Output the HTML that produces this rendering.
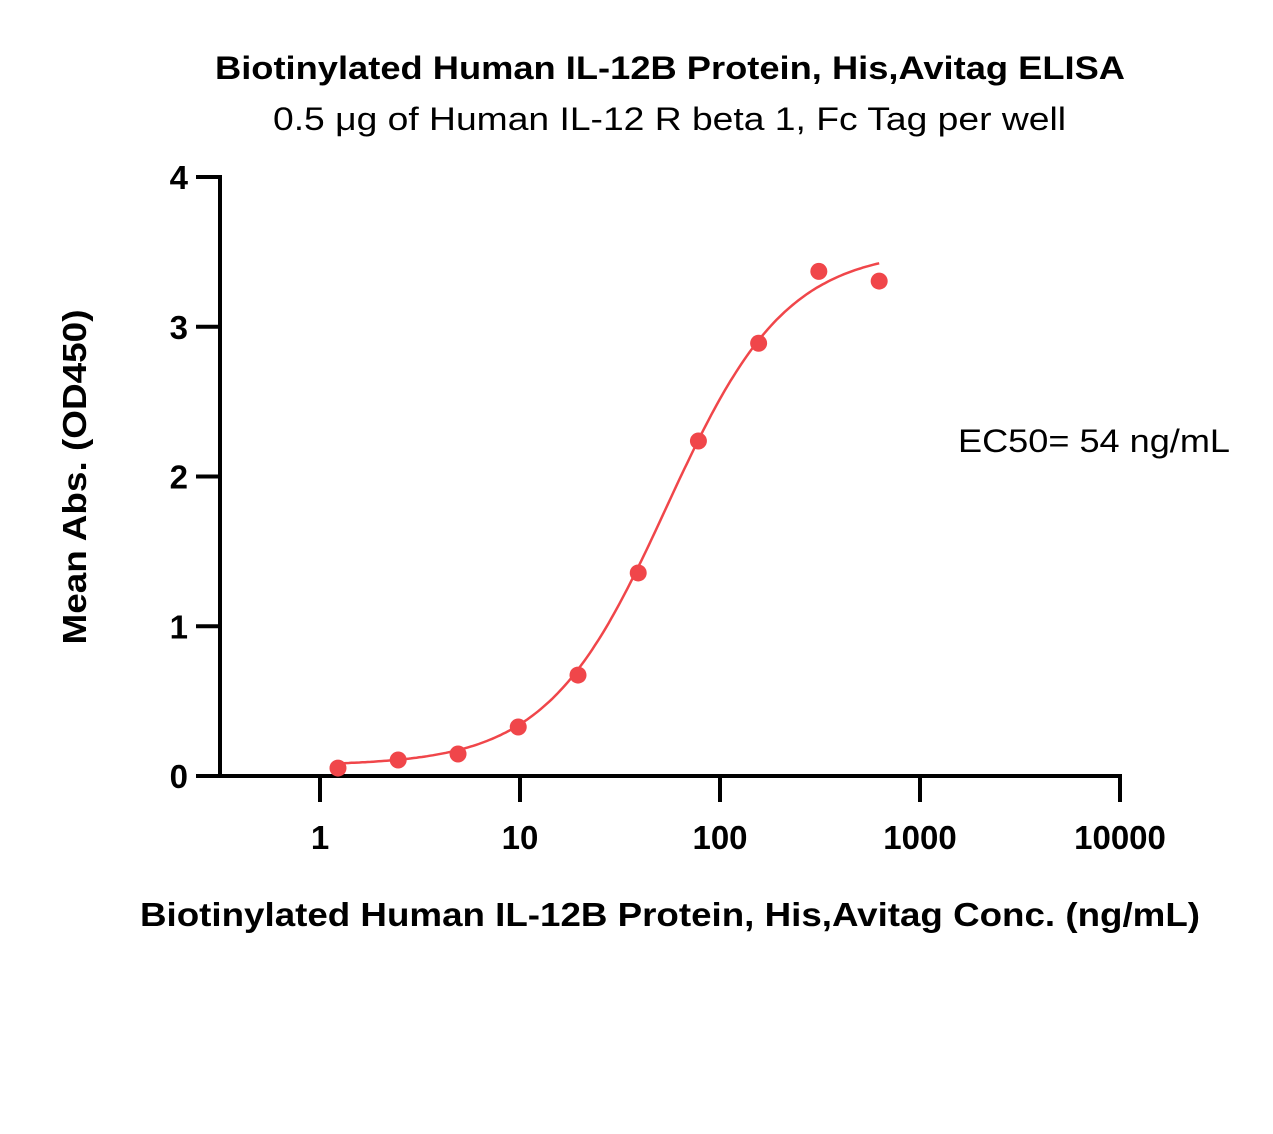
<!DOCTYPE html>
<html><head><meta charset="utf-8"><style>
html,body{margin:0;padding:0;background:#fff;}
svg{display:block;font-family:"Liberation Sans",Arial,sans-serif;}
</style></head><body>
<svg id="chart" width="1273" height="1134" viewBox="0 0 1273 1134">
<text x="215" y="79" font-size="32" font-weight="bold" textLength="910" lengthAdjust="spacingAndGlyphs">Biotinylated Human IL-12B Protein, His,Avitag ELISA</text>
<text x="273" y="130" font-size="32" textLength="793" lengthAdjust="spacingAndGlyphs">0.5 μg of Human IL-12 R beta 1, Fc Tag per well</text>
<text x="958" y="452" font-size="32" textLength="272" lengthAdjust="spacingAndGlyphs">EC50= 54 ng/mL</text>
<text transform="translate(86,477) rotate(-90)" text-anchor="middle" font-size="33" font-weight="bold" textLength="335" lengthAdjust="spacingAndGlyphs">Mean Abs. (OD450)</text>
<text x="140" y="926" font-size="33" font-weight="bold" textLength="1060" lengthAdjust="spacingAndGlyphs">Biotinylated Human IL-12B Protein, His,Avitag Conc. (ng/mL)</text>
<g id="axes"></g>
<g id="marks"></g>
</svg>
<script>
const xTicks=[1,10,100,1000,10000];
const xTickLabels=["1","10","100","1000","10000"];
const yTicks=[0,1,2,3,4];
const yTickLabels=["0","1","2","3","4"];
const concs=[1.23,2.46,4.9,9.8,19.5,39,78,156,312,625];
const absVals=[0.053,0.107,0.147,0.327,0.674,1.356,2.237,2.89,3.37,3.305];
const fitBottom=0.07, fitTop=3.52, fitEC50=54, fitHill=1.45;
const NS="http://www.w3.org/2000/svg";
const X=v=>320+200*Math.log10(v);
const Y=v=>776-149.75*v;
function mk(t,a,p){const e=document.createElementNS(NS,t);for(const k in a)e.setAttribute(k,a[k]);p.appendChild(e);return e;}
const ax=document.getElementById('axes'), mg=document.getElementById('marks');
let yl=mk('line',{x1:220,y1:Y(4)-2,x2:220,y2:778,stroke:'#000','stroke-width':4},ax);


let xl=mk('line',{x1:196,y1:776,x2:1122,y2:776,stroke:'#000','stroke-width':4},ax);


yTicks.forEach((v,i)=>{
 let t=mk('line',{x1:196,y1:Y(v),x2:220,y2:Y(v),stroke:'#000','stroke-width':4},ax);
 
 
 let l=mk('text',{x:188,y:Y(v)+12,'text-anchor':'end','font-size':33,'font-weight':'bold'},ax);
 l.textContent=yTickLabels[i];
 
 
});
xTicks.forEach((v,i)=>{
 let t=mk('line',{x1:X(v),y1:776,x2:X(v),y2:802,stroke:'#000','stroke-width':4},ax);
 
 
 let l=mk('text',{x:X(v),y:849,'text-anchor':'middle','font-size':33,'font-weight':'bold'},ax);
 l.textContent=xTickLabels[i];
 
 
});
const f=c=>fitBottom+(fitTop-fitBottom)/(1+Math.pow(fitEC50/c,fitHill));
let d='';const lo=Math.log10(concs[0]),hi=Math.log10(concs[concs.length-1]);
for(let i=0;i<=200;i++){const c=Math.pow(10,lo+(hi-lo)*i/200);d+=(i?'L':'M')+X(c).toFixed(1)+','+Y(f(c)).toFixed(1);}
let p=mk('path',{d:d,fill:'none',stroke:'#f0464a','stroke-width':2.5},mg);


concs.forEach((c,i)=>{
 let e=mk('circle',{cx:X(c),cy:Y(absVals[i]),r:8.5,fill:'#f0464a'},mg);
 
 
});
</script>
</body></html>
